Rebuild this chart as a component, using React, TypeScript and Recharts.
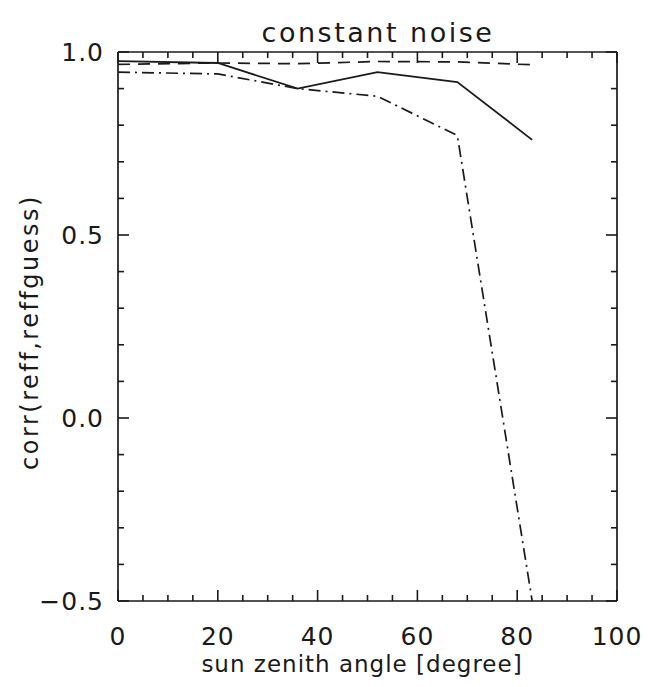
import React from 'react';
import { LineChart, Line, XAxis, YAxis, Customized } from 'recharts';

const angles = [0, 20, 36, 52, 68, 83];
const solidSeries = [0.975, 0.97, 0.9, 0.945, 0.918, 0.76];
const dashedSeries = [0.966, 0.97, 0.968, 0.974, 0.973, 0.965];
const dashDotSeries = [0.945, 0.94, 0.9, 0.879, 0.772, -0.5];

const xLabelTicks = [0, 20, 40, 60, 80, 100];
const xMinorTicks = [0, 5, 10, 15, 20, 25, 30, 35, 40, 45, 50, 55, 60, 65, 70, 75, 80, 85, 90, 95, 100];
const yLabelTicks = [-0.5, 0, 0.5, 1.0];
const yMinorTicks = [-0.5, -0.4, -0.3, -0.2, -0.1, 0, 0.1, 0.2, 0.3, 0.4, 0.5, 0.6, 0.7, 0.8, 0.9, 1.0];

const titleText = 'constant noise';
const xTitle = 'sun zenith angle [degree]';
const yTitle = 'corr(reff,reffguess)';

const data = angles.map((a, i) => ({
  angle: a,
  solid: solidSeries[i],
  dashed: dashedSeries[i],
  dashDot: dashDotSeries[i],
}));

const FONT = '"DejaVu Sans", sans-serif';
const INK = '#1a1a1a';

const fmtY = (v: number) => v.toFixed(1).replace('-', '\u2212');

const Titles = () => (
  <g>
    <text x={378} y={42} textAnchor="middle" fontFamily={FONT} fontSize={27} fill={INK} letterSpacing={2.5}>
      {titleText}
    </text>
    <text x={362} y={672} textAnchor="middle" fontFamily={FONT} fontSize={23} fill={INK} letterSpacing={1}>
      {xTitle}
    </text>
    <text
      x={0}
      y={0}
      transform="translate(38,332) rotate(-90)"
      textAnchor="middle"
      fontFamily={FONT}
      fontSize={24}
      fill={INK}
      letterSpacing={2.5}
    >
      {yTitle}
    </text>
  </g>
);

const EXTRA = 5;
const makeMajorTick = (majors: number[], dx: number, dy: number) => (props: any) => {
  const { x, y, payload } = props;
  const v = payload ? payload.value : NaN;
  const isMajor = majors.some((m) => Math.abs(m - v) < 1e-9);
  if (!isMajor) return <g />;
  return <line x1={x} y1={y} x2={x + dx * EXTRA} y2={y + dy * EXTRA} stroke={INK} strokeWidth={1.6} />;
};

const bottomTick = makeMajorTick(xLabelTicks, 0, -1);
const topTick = makeMajorTick(xLabelTicks, 0, 1);
const leftTick = makeMajorTick(yLabelTicks, 1, 0);
const rightTick = makeMajorTick(yLabelTicks, -1, 0);

export default function App() {
  const tickStyle = { fontFamily: FONT, fontSize: 25, fill: INK, letterSpacing: 1 };
  const common = {
    type: 'number' as const,
    allowDataOverflow: true,
    stroke: INK,
    strokeWidth: 1.7,
    interval: 0 as const,
    mirror: true,
    tickSize: 6,
    tickMargin: 0,
    axisLine: { stroke: INK, strokeWidth: 1.7 },
    tickLine: { stroke: INK, strokeWidth: 1.6 },
  };
  return (
    <div style={{ position: 'absolute', left: 0, top: 0, background: '#fff' }}>
      <LineChart
        width={648}
        height={687}
        data={data}
        margin={{ top: 52, right: 31, bottom: 26, left: 58 }}
      >
        <XAxis
          xAxisId="lbl"
          dataKey="angle"
          type="number"
          domain={[0, 100]}
          ticks={xLabelTicks}
          height={60}
          tickLine={false}
          axisLine={false}
          tickMargin={20}
          tick={tickStyle}
          interval={0}
        />
        <YAxis
          yAxisId="lbl"
          type="number"
          domain={[-0.5, 1.0]}
          ticks={yLabelTicks}
          width={60}
          tickLine={false}
          axisLine={false}
          tickMargin={8}
          tickFormatter={fmtY}
          tick={tickStyle}
          interval={0}
        />
        <XAxis {...common} xAxisId="bFrame" dataKey="angle" domain={[0, 100]} ticks={xMinorTicks} orientation="bottom" height={1} tick={bottomTick} />
        <XAxis {...common} xAxisId="tFrame" dataKey="angle" domain={[0, 100]} ticks={xMinorTicks} orientation="top" height={1} tick={topTick} />
        <YAxis {...common} yAxisId="lFrame" domain={[-0.5, 1.0]} ticks={yMinorTicks} orientation="left" width={1} tick={leftTick} />
        <YAxis {...common} yAxisId="rFrame" domain={[-0.5, 1.0]} ticks={yMinorTicks} orientation="right" width={1} tick={rightTick} />

        <Line xAxisId="lbl" yAxisId="lbl" type="linear" dataKey="dashed" stroke={INK} strokeWidth={1.7} strokeDasharray="12 8" dot={false} isAnimationActive={false} />
        <Line xAxisId="lbl" yAxisId="lbl" type="linear" dataKey="dashDot" stroke={INK} strokeWidth={1.7} strokeDasharray="12 5 2 5" dot={false} isAnimationActive={false} />
        <Line xAxisId="lbl" yAxisId="lbl" type="linear" dataKey="solid" stroke={INK} strokeWidth={1.8} dot={false} isAnimationActive={false} />
        <Line xAxisId="bFrame" yAxisId="lFrame" dataKey="solid" stroke="none" strokeWidth={0} dot={false} legendType="none" isAnimationActive={false} />
        <Line xAxisId="tFrame" yAxisId="rFrame" dataKey="solid" stroke="none" strokeWidth={0} dot={false} legendType="none" isAnimationActive={false} />
        <Customized component={Titles} />
      </LineChart>
    </div>
  );
}
